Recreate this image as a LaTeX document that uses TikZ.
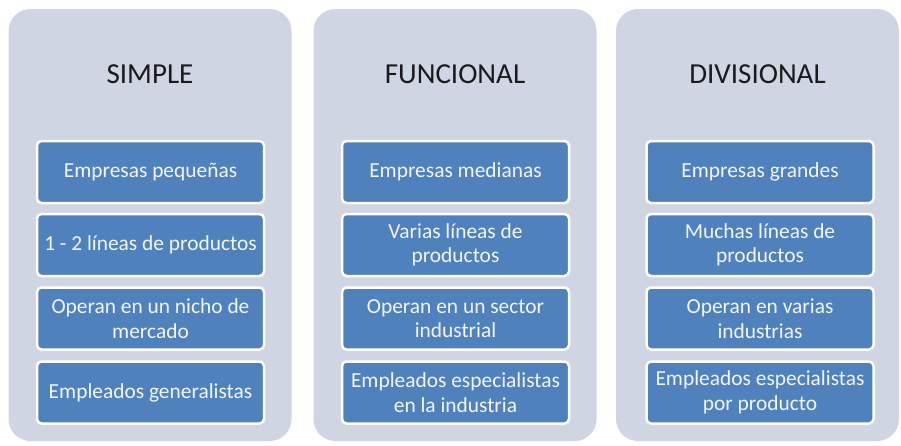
\documentclass[tikz,border=0pt]{standalone}
\usepackage{fontspec}
\setmainfont{Carlito}
\definecolor{panelfill}{HTML}{CFD5E3}
\definecolor{boxblue}{HTML}{4F81BD}
\definecolor{boxtext}{HTML}{F4F6FA}
\definecolor{titletext}{HTML}{1A1A1A}
\begin{document}
\begin{tikzpicture}[x=1pt,y=1pt,
  panel/.style={draw=none, fill=panelfill, rounded corners=22pt, minimum width=283pt, minimum height=432pt, inner sep=0pt},
  title/.style={font=\fontsize{29}{34}\selectfont, text=titletext, inner sep=0pt},
  item/.style={draw=white, line width=2.5pt, fill=boxblue, rounded corners=4.5pt, minimum width=227pt, minimum height=62pt, inner sep=0pt, align=center, text=boxtext, font=\fontsize{21.4}{24.5}\selectfont}]
\useasboundingbox (0,0) rectangle (901,-445);
\fill[white] (0,0) rectangle (901,-445);
% panels
\node[panel] (p1) at (150,-225) {};
\node[panel] (p2) at (455,-225) {};
\node[panel] (p3) at (757.5,-225) {};
% titles
\node[title] (t1) at (150,-74) {SIMPLE};
\node[title] (t2) at (455,-74) {FUNCIONAL};
\node[title] (t3) at (757.5,-74) {DIVISIONAL};
% column 1
\node[item] (a1) at (150.5,-172) {Empresas pequeñas};
\node[item] (a2) at (150.5,-245) {1 - 2 líneas de productos};
\node[item] (a3) at (150.5,-318.5) {Operan en un nicho de\\mercado};
\node[item] (a4) at (150.5,-392.5) {Empleados generalistas};
% column 2
\node[item] (b1) at (455.5,-172) {Empresas medianas};
\node[item] (b2) at (455.5,-245) {Varias líneas de\\productos};
\node[item] (b3) at (455.5,-318.5) {Operan en un sector\\industrial};
\node[item] (b4) at (455.5,-392.5) {Empleados especialistas\\en la industria};
% column 3
\node[item] (c1) at (760,-172) {Empresas grandes};
\node[item] (c2) at (760,-245) {Muchas líneas de\\productos};
\node[item] (c3) at (760,-318.5) {Operan en varias\\industrias};
\node[item] (c4) at (760,-392.5) {Empleados especialistas\\por producto};
\end{tikzpicture}
\end{document}
